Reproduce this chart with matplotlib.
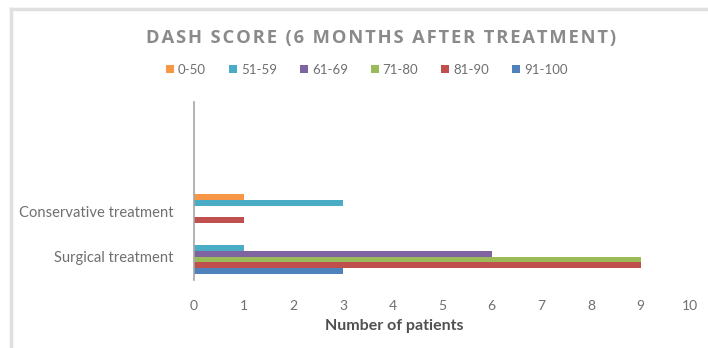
import matplotlib
matplotlib.use("Agg")
import matplotlib.pyplot as plt
import numpy as np

# DASH score groups (top to bottom inside each category)
score_bands = ["0-50", "51-59", "61-69", "71-80", "81-90", "91-100"]
colors = ["#f79646", "#4bacc6", "#8064a2", "#9bbb59", "#c0504d", "#4f81bd"]
categories = ["Surgical treatment", "Conservative treatment"]

surgical = [0, 1, 6, 9, 9, 3]
conservative = [1, 3, 0, 0, 1, 0]

x_ticks = list(range(0, 11))

title = "DASH SCORE (6 MONTHS AFTER TREATMENT)"

plt.rcParams["font.family"] = ["Lato", "DejaVu Sans"]

fig = plt.figure(figsize=(7.08, 3.48), dpi=100)
ax = fig.add_axes([0.274, 0.195, 0.701, 0.512])

bar_h = 0.127
pos = np.arange(len(categories))
values = np.array([surgical, conservative])
for i, band in enumerate(score_bands):
    offset = (2.5 - i) * bar_h
    ax.barh(pos + offset, values[:, i], height=bar_h, color=colors[i],
            label=band, edgecolor="none")

ax.set_xlim(0, 10)
ax.set_ylim(-0.52, 3.43)
ax.set_xticks(x_ticks)
ax.set_yticks(pos)
ax.set_yticklabels(categories)
ax.tick_params(axis="both", length=0, colors="#6f6f6f", labelsize=10)
ax.tick_params(axis="y", labelsize=10.6)
ax.tick_params(axis="x", pad=14)
ax.tick_params(axis="y", pad=15)
for s in ["top", "right", "bottom"]:
    ax.spines[s].set_visible(False)
ax.spines["left"].set_color("#a6a6a6")
ax.spines["left"].set_linewidth(1.2)

ax.set_xlabel("Number of patients", fontsize=11.5, color="#505050",
              fontweight="bold")
ax.xaxis.set_label_coords(0.403, -0.22)

# excel-style letter spacing in the title via hair spaces
spaced = "\u200a".join(title)
fig.text(0.538, 0.89, spaced,
         ha="center", va="center", fontsize=13.2, color="#8a8a8a",
         fontweight="bold", family=["Open Sans", "DejaVu Sans"])

leg = fig.legend(loc="center", bbox_to_anchor=(0.518, 0.80), ncol=6,
                 frameon=False, fontsize=9.5, handlelength=0.6,
                 handleheight=0.6, handletextpad=0.3, columnspacing=1.75)
for t in leg.get_texts():
    t.set_color("#6f6f6f")

# light chart border (top and left only)
fig.add_artist(plt.Line2D([0.0155, 1.0], [0.973, 0.973], color="#e0e0e0",
                          lw=2.5, transform=fig.transFigure))
fig.add_artist(plt.Line2D([0.0155, 0.0155], [0.0, 0.973], color="#e0e0e0",
                          lw=2.5, transform=fig.transFigure))

fig.savefig("out.png", dpi=100)
